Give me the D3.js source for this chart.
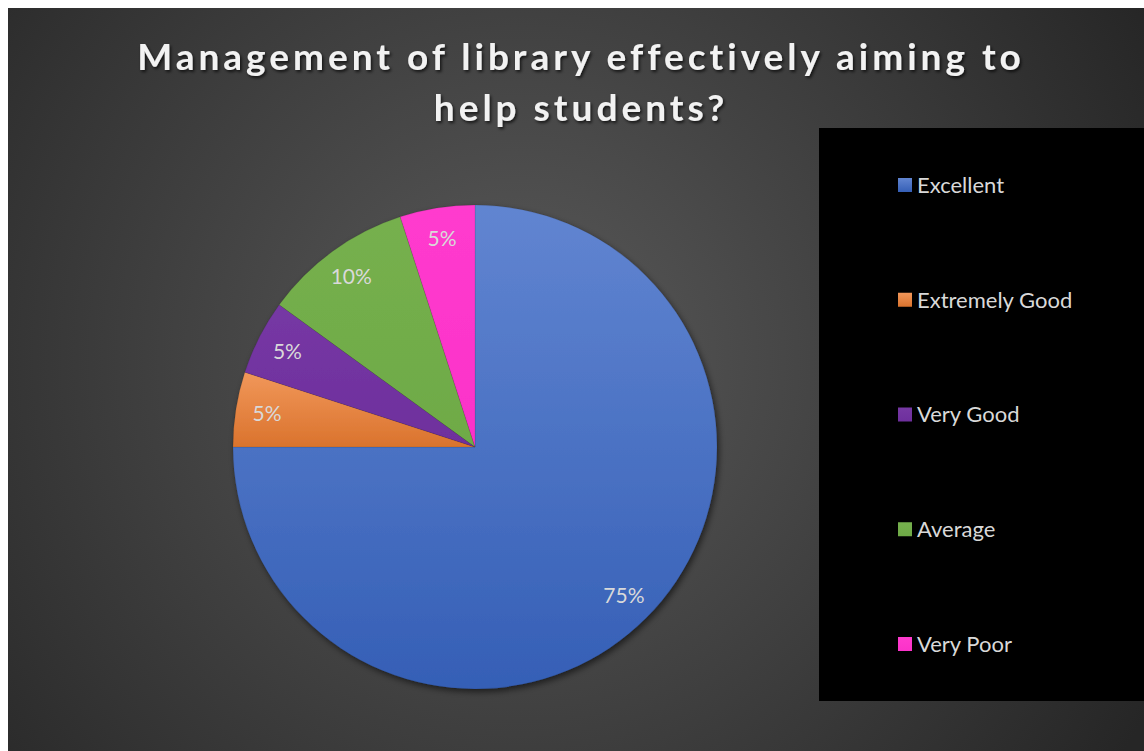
<!DOCTYPE html>
<html>
<head>
<meta charset="utf-8">
<script src="https://cdn.jsdelivr.net/npm/d3@7"></script>
<style>
  html, body { margin: 0; padding: 0; background: #ffffff; }
  svg { display: block; }
</style>
</head>
<body>
<svg id="chart" width="1144" height="751"></svg>
<script>
// Survey answers and their shares (percent)
const categories = ["Excellent", "Extremely Good", "Very Good", "Average", "Very Poor"];
const shares = [75, 5, 5, 10, 5];
const sliceColors = ["#3A67C6", "#ED7D31", "#7030A0", "#70AD47", "#FF33CC"];
const sliceShade = [0.2, 0.2, 0.04, 0.04, 0.04];
const titleLines = ["Management of library effectively aiming to", "help students?"];

const W = 1144, H = 751;
const svg = d3.select("#chart");
const defs = svg.append("defs");

// Dark radial backdrop
const bg = defs.append("radialGradient").attr("id", "bgGrad")
  .attr("gradientUnits", "userSpaceOnUse")
  .attr("cx", 520).attr("cy", 360).attr("r", 720);
bg.append("stop").attr("offset", "0%").attr("stop-color", "#5a5a5a");
bg.append("stop").attr("offset", "100%").attr("stop-color", "#262626");

svg.append("rect").attr("x", 8).attr("y", 8).attr("width", W - 8).attr("height", H - 8)
  .attr("fill", "url(#bgGrad)");

// Soft shadows under the pie and the title
const sh = defs.append("filter").attr("id", "pieShadow")
  .attr("x", "-10%").attr("y", "-10%").attr("width", "125%").attr("height", "125%");
sh.append("feDropShadow").attr("dx", 2).attr("dy", 3).attr("stdDeviation", 3)
  .attr("flood-color", "#000").attr("flood-opacity", 0.55);

const tsh = defs.append("filter").attr("id", "titleShadow")
  .attr("x", "-5%").attr("y", "-20%").attr("width", "110%").attr("height", "150%");
tsh.append("feDropShadow").attr("dx", 1.5).attr("dy", 2).attr("stdDeviation", 1.5)
  .attr("flood-color", "#000").attr("flood-opacity", 0.7);

// Vertical shading per slice (lighter at the top)
sliceColors.forEach((c, i) => {
  const g = defs.append("linearGradient").attr("id", "slice" + i)
    .attr("x1", 0).attr("y1", 0).attr("x2", 0).attr("y2", 1);
  const top = d3.interpolateRgb(c, "#ffffff")(sliceShade[i]);
  const bot = d3.color(c).darker(sliceShade[i] * 1.2);
  g.append("stop").attr("offset", "0%").attr("stop-color", top);
  g.append("stop").attr("offset", "100%").attr("stop-color", bot);
});

// Title, spaced out so the first line spans the header width
const title = svg.append("g").attr("filter", "url(#titleShadow)");
const tText = title.selectAll("text").data(titleLines).join("text")
  .attr("x", 581).attr("y", (d, i) => 70 + i * 51)
  .attr("text-anchor", "middle")
  .attr("font-family", "Lato, 'Open Sans', sans-serif")
  .attr("font-weight", 700)
  .attr("font-size", 37)
  .attr("fill", "#f2f2f2")
  .text(d => d);
const first = tText.node();
const baseW = first.getComputedTextLength();
const spacing = Math.max(0, (887 - baseW) / titleLines[0].length);
tText.attr("letter-spacing", spacing);

// Pie
const cx = 475, cy = 447, R = 242;
const data = categories.map((c, i) => ({ name: c, value: shares[i], idx: i }));
const pie = d3.pie().value(d => d.value).sort(null);
const arcs = pie(data);
const arc = d3.arc().innerRadius(0).outerRadius(R);
const labelArc = d3.arc().innerRadius(R * 0.87).outerRadius(R * 0.87);

const pg = svg.append("g").attr("transform", `translate(${cx},${cy})`);
pg.append("g").attr("filter", "url(#pieShadow)")
  .selectAll("path").data(arcs).join("path")
  .attr("d", arc)
  .attr("fill", d => `url(#slice${d.data.idx})`)
  .attr("stroke", "rgba(0,0,0,0.15)")
  .attr("stroke-width", 0.6);

pg.selectAll("text.pct").data(arcs).join("text")
  .attr("class", "pct")
  .attr("transform", d => `translate(${labelArc.centroid(d)})`)
  .attr("text-anchor", "middle")
  .attr("dy", "0.35em")
  .attr("font-family", "Lato, 'Open Sans', sans-serif")
  .attr("font-size", 21)
  .attr("fill", "#d9d9d9")
  .text(d => d.data.value + "%");

// Legend panel
svg.append("rect").attr("x", 819).attr("y", 128).attr("width", W - 819).attr("height", 573)
  .attr("fill", "#000000");

const legendY = d3.scalePoint().domain(categories).range([185, 644]);
const lg = svg.append("g").selectAll("g").data(data).join("g")
  .attr("transform", d => `translate(898,${legendY(d.name)})`);
lg.append("rect").attr("x", 0).attr("y", -7).attr("width", 14).attr("height", 14)
  .attr("fill", d => `url(#slice${d.idx})`);
lg.append("text").attr("x", 19).attr("dy", "0.36em")
  .attr("font-family", "Lato, 'Open Sans', sans-serif")
  .attr("font-size", 22)
  .attr("fill", "#d9d9d9")
  .text(d => d.name);
</script>
</body>
</html>
